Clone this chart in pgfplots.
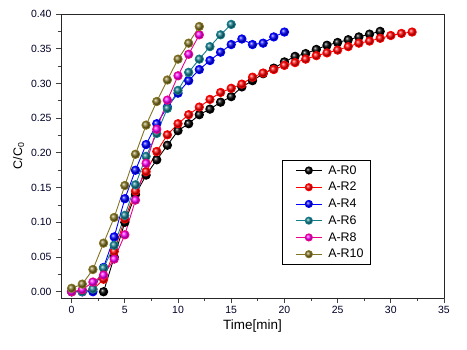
\documentclass[border=0pt]{standalone}
\usepackage{pgfplots}
\pgfplotsset{compat=1.18}
\usepackage{fontspec}
\setmainfont{Liberation Sans}
\definecolor{cteal}{RGB}{20,125,140}
\definecolor{colive}{RGB}{130,115,35}
\begin{document}
\begin{tikzpicture}
\begin{axis}[name=ax,
  scale only axis, width=383bp, height=284bp,
  xmin=-1, xmax=35, ymin=-0.009, ymax=0.40,
  xtick={0,5,...,35}, ytick={0,0.05,...,0.40},
  minor x tick num=1, minor y tick num=1,
  tick align=outside, axis x line*=bottom, axis y line*=left,
  major tick length=5bp, minor tick length=3bp,
  axis line style={line width=1pt, black!85},
  every tick/.style={black!75, line width=0.9pt},
  /pgf/number format/assume math mode=true,
  yticklabel style={/pgf/number format/fixed, /pgf/number format/precision=2, /pgf/number format/fixed zerofill, xshift=-1bp},
  tick label style={font=\fontsize{10.5}{12}\selectfont, text=black!85!blue},
  xlabel={Time[min]}, ylabel={C/C\textsubscript{0}},
  xlabel style={font=\fontsize{13.5}{15}\selectfont, yshift=1bp},
  ylabel style={font=\fontsize{12.5}{14}\selectfont, yshift=0bp},
  clip=false,
  every axis plot/.append style={line width=0.9pt, mark=ball, mark size=4.2pt},
  legend style={at={(0.577,0.486)}, anchor=north west, draw=black, line width=0.8pt,
     font=\fontsize{12.5}{14}\selectfont, row sep=2.6bp, inner xsep=5bp, inner ysep=3bp},
  legend cell align=left,
  legend image code/.code={\path (-8bp,0bp) (30bp,0bp);\draw[mark repeat=2,mark phase=2, mark size=3.6pt] plot coordinates {(0bp,0bp)(13bp,0bp)(26bp,0bp)};},
]
\draw[line width=1pt, black!85] (rel axis cs:0,1) -- (rel axis cs:1,1) -- (rel axis cs:1,0);
\addplot[black, mark options={ball color=black}] coordinates {
(3,0.000)(4,0.050)(5,0.100)(6,0.140)(7,0.168)(8,0.190)(9,0.211)(10,0.232)(11,0.242)(12,0.255)(13,0.263)(14,0.273)(15,0.281)(16,0.295)(17,0.304)(18,0.314)(19,0.322)(20,0.331)(21,0.339)(22,0.343)(23,0.349)(24,0.355)(25,0.359)(26,0.363)(27,0.367)(28,0.371)(29,0.375)};
\addlegendentry{A-R0}
\addplot[red, mark options={ball color=red}] coordinates {
(0,0.000)(1,0.000)(2,0.003)(3,0.018)(4,0.058)(5,0.105)(6,0.145)(7,0.173)(8,0.202)(9,0.226)(10,0.242)(11,0.255)(12,0.266)(13,0.277)(14,0.287)(15,0.293)(16,0.299)(17,0.309)(18,0.315)(19,0.320)(20,0.326)(21,0.330)(22,0.335)(23,0.340)(24,0.344)(25,0.348)(26,0.353)(27,0.358)(28,0.361)(29,0.365)(30,0.369)(31,0.372)(32,0.374)};
\addlegendentry{A-R2}
\addplot[blue, mark options={ball color=blue}] coordinates {
(0,0.000)(1,0.000)(2,0.000)(3,0.035)(4,0.079)(5,0.134)(6,0.175)(7,0.212)(8,0.242)(9,0.266)(10,0.286)(11,0.304)(12,0.320)(13,0.333)(14,0.345)(15,0.356)(16,0.364)(17,0.356)(18,0.358)(19,0.367)(20,0.374)};
\addlegendentry{A-R4}
\addplot[cteal, mark options={ball color=cteal}] coordinates {
(0,0.000)(1,0.000)(2,0.004)(3,0.034)(4,0.067)(5,0.110)(6,0.154)(7,0.195)(8,0.228)(9,0.264)(10,0.290)(11,0.316)(12,0.335)(13,0.353)(14,0.370)(15,0.385)};
\addlegendentry{A-R6}
\addplot[magenta, mark options={ball color=magenta}] coordinates {
(0,0.000)(1,0.003)(2,0.014)(3,0.024)(4,0.047)(5,0.082)(6,0.132)(7,0.185)(8,0.234)(9,0.276)(10,0.311)(11,0.342)(12,0.370)};
\addlegendentry{A-R8}
\addplot[colive, mark options={ball color=colive}] coordinates {
(0,0.005)(1,0.011)(2,0.032)(3,0.070)(4,0.107)(5,0.153)(6,0.198)(7,0.240)(8,0.274)(9,0.305)(10,0.335)(11,0.358)(12,0.382)};
\addlegendentry{A-R10}
\end{axis}
\pgfresetboundingbox
\path[use as bounding box] ([shift={(-61bp,-52bp)}]ax.south west) rectangle ([shift={(23bp,14bp)}]ax.north east);
\end{tikzpicture}
\end{document}
